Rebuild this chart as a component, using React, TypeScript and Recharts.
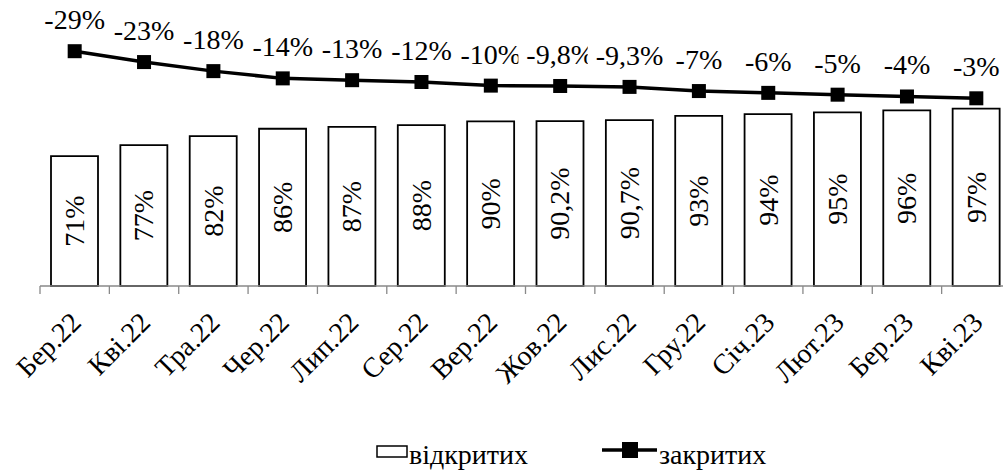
import React from "react";
import { Bar, ComposedChart, LabelList, Line, XAxis, YAxis } from "recharts";

const months = [
  "Бер.22", "Кві.22", "Тра.22", "Чер.22", "Лип.22", "Сер.22", "Вер.22",
  "Жов.22", "Лис.22", "Гру.22", "Січ.23", "Лют.23", "Бер.23", "Кві.23",
];
const opened = [71, 77, 82, 86, 87, 88, 90, 90.2, 90.7, 93, 94, 95, 96, 97];
const closed = [-29, -23, -18, -14, -13, -12, -10, -9.8, -9.3, -7, -6, -5, -4, -3];

const FONT = "Liberation Serif";
const FS = 28;
const W = 1020;
const H = 472;
const M = { top: 30, right: 9, left: 40, bottom: 126 };
const BAND = (W - M.left - M.right) / months.length;

const data = months.map((m, i) => ({ month: m, opened: opened[i], closed: closed[i] }));

const fmt = (v: number) => String(v).replace(".", ",") + "%";

// rough Times widths, em
const cw: Record<string, number> = { "-": 0.333, ",": 0.25, "%": 0.833 };
const textW = (s: string) =>
  s.split("").reduce((sum, c) => sum + (cw[c] ?? 0.5), 0) * FS;

function MonthTick(props: any) {
  const { x, y, payload } = props;
  const ax = x + 8;
  const ay = y + 30;
  return (
    <g>
      <line x1={x - BAND / 2} x2={x - BAND / 2} y1={y - 8} y2={y} stroke="#898989" strokeWidth={1.3} />
      <text x={ax} y={ay} transform={`rotate(-45, ${ax}, ${ay})`} textAnchor="end" fontFamily={FONT} fontSize={FS} fill="#000">
        {payload.value}
      </text>
    </g>
  );
}

function BarValue(props: any) {
  const { x, y, width, height, value } = props;
  const cx = x + width / 2;
  const cy = y + height / 2;
  return (
    <text x={cx} y={cy} transform={`rotate(-90, ${cx}, ${cy})`} textAnchor="middle" dominantBaseline="central" fontFamily={FONT} fontSize={FS} fill="#000">
      {fmt(value)}
    </text>
  );
}

function LineValue(props: any) {
  const { x, y, value } = props;
  const s = fmt(value);
  const w = textW(s);
  const base = y - 22;
  return (
    <g>
      <rect x={x - w / 2 - 8} y={base - 24} width={w + 16} height={30} fill="#fff" />
      <text x={x} y={base} textAnchor="middle" fontFamily={FONT} fontSize={FS} fill="#000">
        {s}
      </text>
    </g>
  );
}

function SquareDot(props: any) {
  const { cx, cy } = props;
  if (cx == null || cy == null) return null;
  return <rect x={cx - 7} y={cy - 7} width={14} height={14} fill="#000" />;
}

function LegendBox() {
  return (
    <svg width={1003} height={472} style={{ position: "absolute", left: 0, top: 0, pointerEvents: "none" }}>
      <rect x={377} y={446} width={30} height={11} fill="#fff" stroke="#000" strokeWidth={1.5} />
      <text x={409} y={464} fontFamily={FONT} fontSize={FS} fill="#000">
        відкритих
      </text>
      <line x1={602} x2={657} y1={450} y2={450} stroke="#000" strokeWidth={3.5} />
      <rect x={622} y={442} width={16} height={16} fill="#000" />
      <text x={659} y={464} fontFamily={FONT} fontSize={FS} fill="#000">
        закритих
      </text>
    </svg>
  );
}

export default function App() {
  return (
    <div style={{ position: "absolute", left: 0, top: 0, width: 1003, height: 472, overflow: "hidden", background: "#fff", fontFamily: FONT }}>
      <ComposedChart width={W} height={H} data={data} margin={M}>
        <XAxis
          dataKey="month"
          height={60}
          interval={0}
          tickLine={false}
          tickSize={8}
          tickMargin={0}
          axisLine={{ stroke: "#898989", strokeWidth: 1.3 }}
          tick={<MonthTick />}
        />
        <YAxis yAxisId="open" hide domain={[0, 140]} />
        <YAxis yAxisId="closed" hide reversed domain={[-40.7, 100.6]} orientation="right" />
        <Bar yAxisId="open" dataKey="opened" barSize={47} fill="#fff" stroke="#000" strokeWidth={1.8} isAnimationActive={false}>
          <LabelList dataKey="opened" content={<BarValue />} />
        </Bar>
        <Line
          yAxisId="closed"
          dataKey="closed"
          type="linear"
          stroke="#000"
          strokeWidth={3.5}
          dot={<SquareDot />}
          activeDot={false}
          isAnimationActive={false}
        >
          <LabelList dataKey="closed" content={<LineValue />} />
        </Line>
      </ComposedChart>
      <LegendBox />
    </div>
  );
}
